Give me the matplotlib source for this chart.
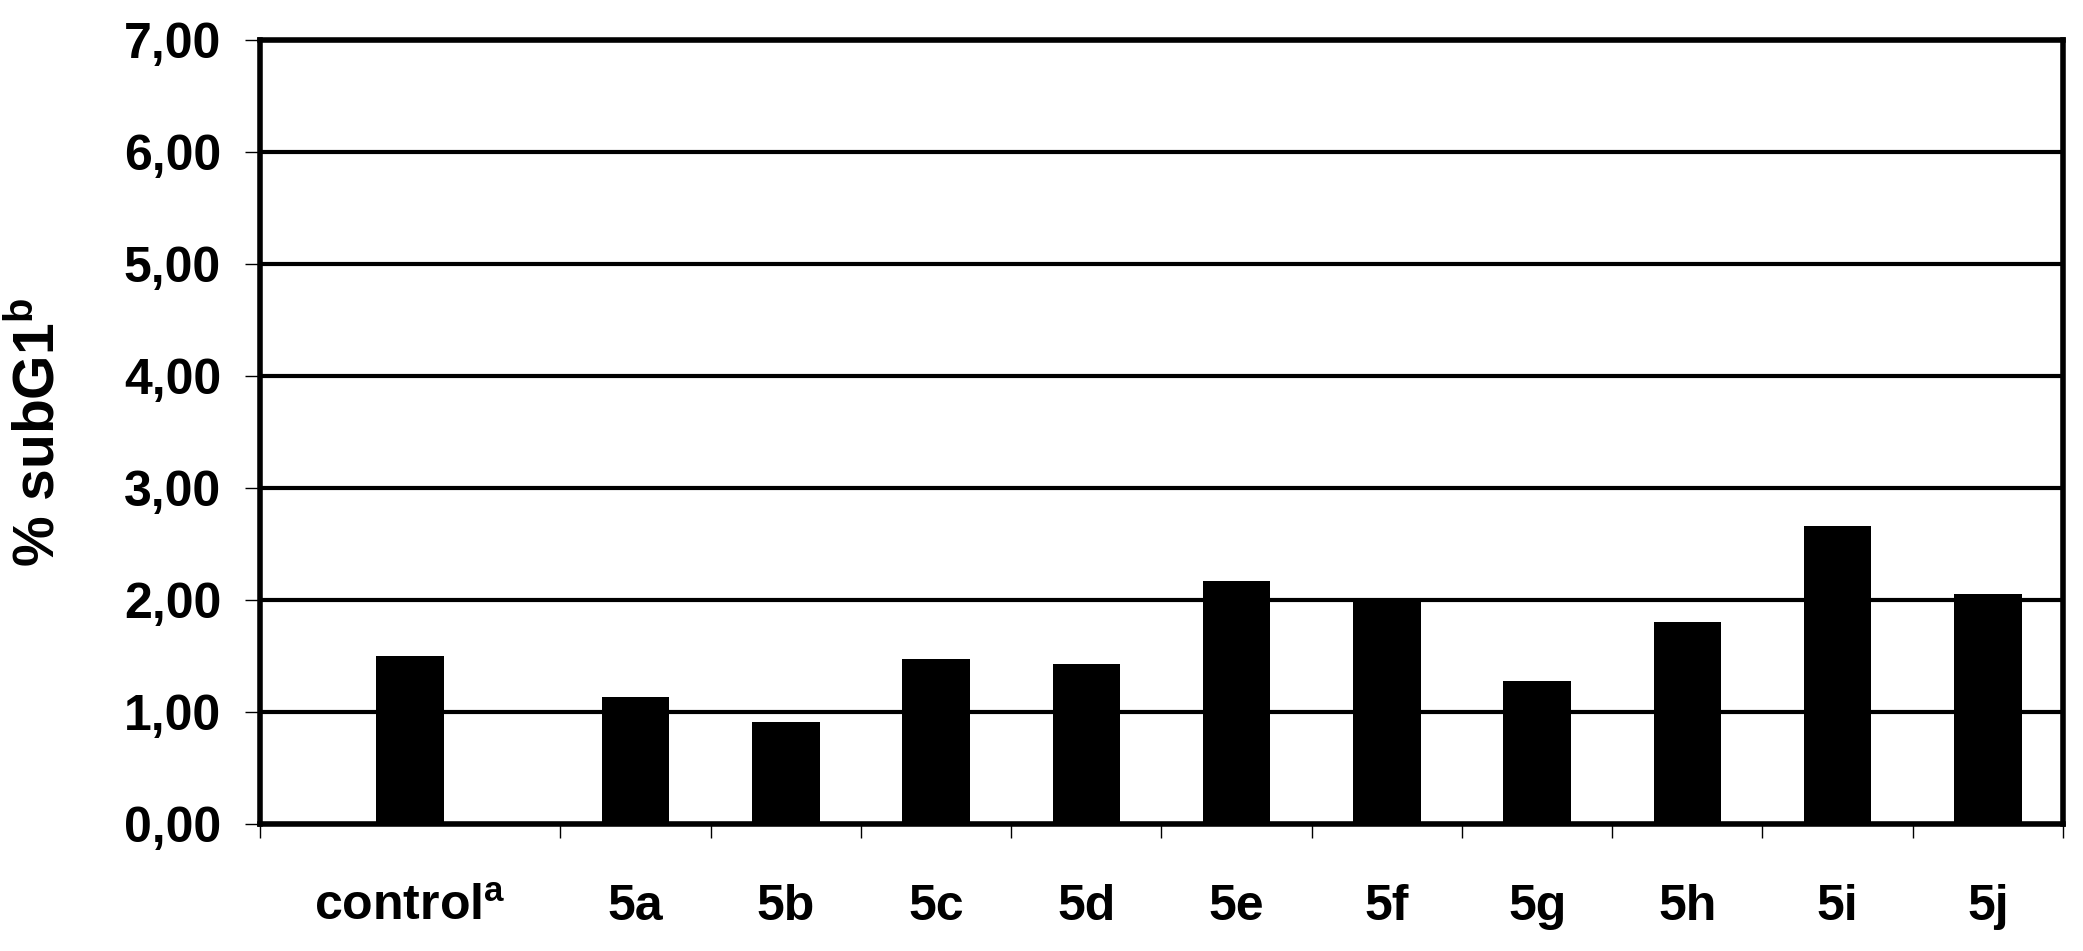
import matplotlib
matplotlib.use("Agg")
import matplotlib.pyplot as plt
import numpy as np

plt.rcParams['font.family'] = ['Liberation Sans', 'DejaVu Sans']
plt.rcParams['font.weight'] = 'bold'
plt.rcParams['mathtext.fontset'] = 'custom'
plt.rcParams['mathtext.rm'] = 'Liberation Sans'
plt.rcParams['mathtext.bf'] = 'Liberation Sans:bold'
plt.rcParams['mathtext.it'] = 'Liberation Sans'

# data
labels = [r'control$^{\mathrm{a}}$', '5a', '5b', '5c', '5d', '5e', '5f', '5g', '5h', '5i', '5j']
subg1 = [1.50, 1.13, 0.91, 1.47, 1.43, 2.17, 2.00, 1.28, 1.80, 2.66, 2.05]
yticks = [0, 1, 2, 3, 4, 5, 6, 7]
ytick_labels = ['0,00', '1,00', '2,00', '3,00', '4,00', '5,00', '6,00', '7,00']

# control sits in a double-width slot, the compounds in single slots
x = np.concatenate([[1.0], 2.5 + np.arange(len(labels) - 1)])
slot_edges = np.concatenate([[0], 2 + np.arange(len(labels))])

fig = plt.figure(figsize=(20.83, 9.51), dpi=100)
ax = fig.add_axes([0.1248, 0.1335, 0.8656, 0.8245])

ax.set_axisbelow(True)
ax.yaxis.grid(True, color='black', linewidth=3)
ax.bar(x, subg1, width=0.45, color='black', zorder=3)

ax.set_xlim(0, 12)
ax.set_ylim(0, 7)
ax.set_yticks(yticks)
ax.set_yticklabels(ytick_labels)
ax.set_xticks(slot_edges)
ax.set_xticklabels([])
ax.set_xticks(x, minor=True)
ax.set_xticklabels(labels, minor=True)

ax.tick_params(axis='y', which='major', length=11, width=1, pad=17, labelsize=36)
ax.tick_params(axis='x', which='major', length=10, width=1)
ax.tick_params(axis='x', which='minor', length=0, pad=43, labelsize=36)

for sp in ax.spines.values():
    sp.set_linewidth(4)
    sp.set_zorder(4)

ax.set_ylabel(r'% subG1$^{\mathrm{b}}$', fontsize=41, fontweight='bold', labelpad=42)

fig.savefig('out.png', dpi=100)
